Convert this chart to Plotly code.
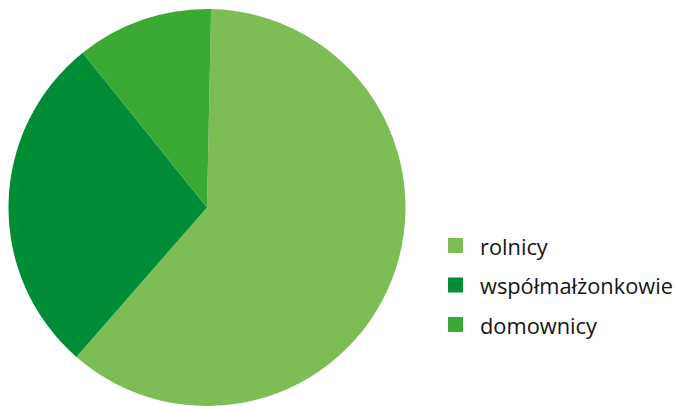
import plotly.graph_objects as go

labels = ["rolnicy", "współmałżonkowie", "domownicy"]
values = [61.1, 27.8, 11.1]
colors = ["#7cbd56", "#008d36", "#3aaa35"]

W, H = 675, 406
TOP = 9  # margines górny (px)

fig = go.Figure(go.Pie(
    labels=labels, values=values, sort=False, direction="clockwise",
    rotation=1.2, marker=dict(colors=colors, line=dict(width=0)),
    textinfo="none", hoverinfo="label+percent", showlegend=False,
    domain=dict(x=[8 / W, 406 / W], y=[0, 1]),
))


def py(px):
    """piksel (od góry strony) -> współrzędna paper"""
    return 1 - (px - TOP) / (H - TOP)


# legenda rysowana ręcznie: kwadrat 15 px + etykieta
for i, (lab, col) in enumerate(zip(labels, colors)):
    yc = 245.5 + 39.5 * i
    fig.add_shape(type="rect", xref="paper", yref="paper",
                  x0=448 / W, x1=463 / W, y0=py(yc + 7.5), y1=py(yc - 7.5),
                  fillcolor=col, line_width=0)
    fig.add_annotation(text=lab, xref="paper", yref="paper",
                       x=478 / W, y=py(yc + 0.5), xanchor="left", yanchor="middle",
                       showarrow=False, font=dict(size=21.8, color="#151515"))

fig.update_layout(
    width=W, height=H,
    margin=dict(t=TOP, b=0, l=0, r=0),
    paper_bgcolor="#ffffff", plot_bgcolor="#ffffff",
    font=dict(family="Open Sans, sans-serif", size=21.8, color="#151515"),
)

fig.write_html("out.html", config={"displayModeBar": False},
               post_script="document.body.style.margin='0';")
